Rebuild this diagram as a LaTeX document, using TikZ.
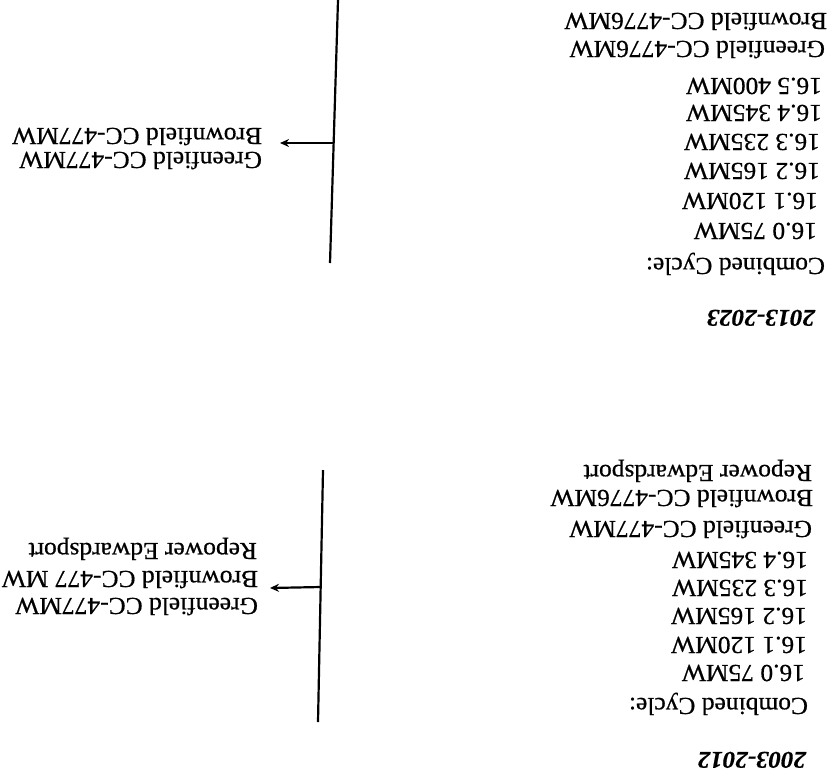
\documentclass[tikz,border=0pt]{standalone}
\usepackage{fontspec}
\setmainfont[FakeStretch=1.04,FakeBold=0.6]{Liberation Serif}
\usetikzlibrary{arrows.meta}
\tikzset{
  txt/.style={inner sep=0pt, outer sep=0pt, rotate=180, anchor=base west, font=\fontsize{24.5}{27}\selectfont},
  yr/.style={txt, font=\fontsize{24}{27}\selectfont\bfseries\itshape},
  bar/.style={line width=2.2pt, black},
  arr/.style={line width=2.2pt, -{Stealth[length=9pt,width=8pt]}}
}
\begin{document}
\begin{tikzpicture}[x=1pt,y=-1pt]
\useasboundingbox (0,0) rectangle (832,780);
% ---------- 2013-2023 block ----------
\node[txt] (a10) at (827,13)  {Brownfield CC-4776MW};
\node[txt] (a9)  at (825,41)  {Greenfield CC-4776MW};
\node[txt] (a8)  at (822,78)  {16.5 400MW};
\node[txt] (a7)  at (822,105) {16.4 345MW};
\node[txt] (a6)  at (820,134) {16.3 235MW};
\node[txt] (a5)  at (820,163) {16.2 165MW};
\node[txt] (a4)  at (818,193) {16.1 120MW};
\node[txt] (a3)  at (817,223) {16.0 75MW};
\node[txt] (a2)  at (825,258) {Combined Cycle:};
\node[yr]  (a1)  at (815,310) {2013-2023};
\coordinate (vt1) at (338,0);
\coordinate (vb1) at (330,263);
\coordinate (j1) at (333.6,143);
\draw[bar] (vt1) -- (vb1);
\node[txt] (l2) at (262,128) {Brownfield CC-477MW};
\node[txt] (l1) at (262,152) {Greenfield CC-477MW};
\coordinate (t1) at (280,143);
\draw[arr] (j1) -- (t1);
% ---------- 2003-2012 block ----------
\node[txt] (b10) at (812,465) {Repower Edwardsport};
\node[txt] (b9)  at (813,490) {Brownfield CC-4776MW};
\node[txt] (b8)  at (812,521) {Greenfield CC-477MW};
\node[txt] (b7)  at (808,552) {16.4 345MW};
\node[txt] (b6)  at (808,580) {16.3 235MW};
\node[txt] (b5)  at (807,608) {16.2 165MW};
\node[txt] (b4)  at (807,637) {16.1 120MW};
\node[txt] (b3)  at (805,665) {16.0 75MW};
\node[txt] (b2)  at (808,698) {Combined Cycle:};
\node[yr]  (b1)  at (806,752) {2003-2012};
\coordinate (vt2) at (323,470);
\coordinate (vb2) at (318,722);
\coordinate (j2) at (320.7,587);
\draw[bar] (vt2) -- (vb2);
\node[txt] (m3) at (257,543) {Repower Edwardsport};
\node[txt] (m2) at (258,571) {Brownfield CC-477 MW};
\node[txt] (m1) at (258,598) {Greenfield CC-477MW};
\coordinate (t2) at (270,588);
\draw[arr] (j2) -- (t2);
\end{tikzpicture}
\end{document}
